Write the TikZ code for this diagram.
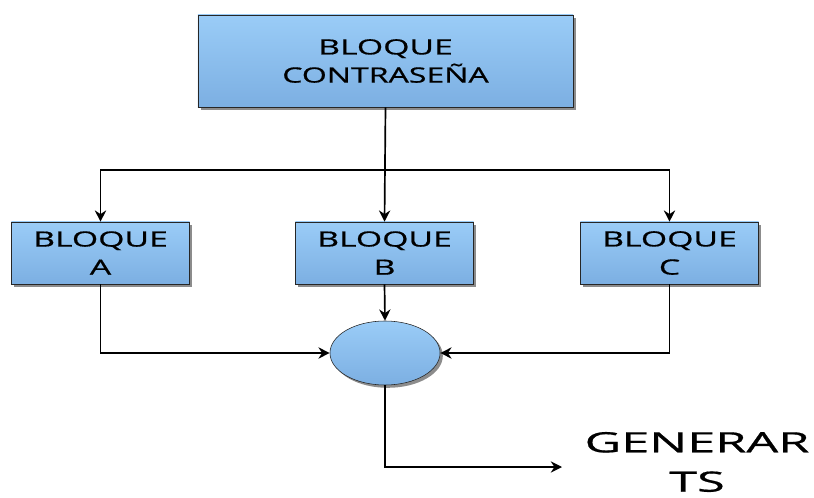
\documentclass[tikz,border=0pt]{standalone}
\usepackage{fontspec}
\setmainfont{Open Sans}
\newfontfamily\gruesa{Open Sans}[FakeBold=0.6]
\usetikzlibrary{arrows.meta,shadows,shapes.geometric}
\newcommand{\ancho}[2][1.6]{\scalebox{#1}[1]{#2}}
\definecolor{azularriba}{RGB}{154,204,247}
\definecolor{azulabajo}{RGB}{124,175,226}

\begin{document}
\begin{tikzpicture}[x=0.025cm, y=-0.025cm,
    bloque/.style={draw=black!85, thin, top color=azularriba, bottom color=azulabajo,
        drop shadow={shadow xshift=0.07cm, shadow yshift=-0.07cm, fill=black!45, opacity=1},
        align=center, inner sep=0pt, font=\gruesa\fontsize{15}{20}\selectfont},
    chico/.style={bloque, minimum width=4.45cm, minimum height=1.55cm},
    flecha/.style={-{Stealth[length=8pt,width=8pt]}, line width=1.2pt}]

    \useasboundingbox (0,0) rectangle (814,498);

    \node[bloque, minimum width=9.375cm, minimum height=2.3cm] (contra) at (385.5,61) {\ancho{BLOQUE}\\ \ancho[1.52]{CONTRASEÑA}};
    \node[chico] (bA) at (100.5,253) {\ancho{BLOQUE}\\ \ancho{A}};
    \node[chico] (bB) at (384.5,253) {\ancho{BLOQUE}\\ \ancho{B}};
    \node[chico] (bC) at (669.5,253) {\ancho{BLOQUE}\\ \ancho{C}};
    \node[bloque, ellipse, minimum width=2.75cm, minimum height=1.6cm] (suma) at (385,353) {};
    \node[align=center, font=\gruesa\fontsize{19.9}{28}\selectfont] (gen) at (697,462) {\ancho[1.8]{GENERAR}\\ \ancho[1.8]{TS}};

    % ramas desde el bloque de contrasena
    \coordinate (bif) at (384.5,170);
    \draw[flecha] (contra.south) -- (bB.north);
    \draw[flecha] (bif) -| (bA.north);
    \draw[flecha] (bif) -| (bC.north);

    % hacia el sumador
    \draw[flecha] (bA.south) |- (suma.west);
    \draw[flecha] (bB.south) -- (suma.north);
    \draw[flecha] (bC.south) |- (suma.east);

    \coordinate (fin) at (562,467);
    \draw[flecha] (suma.south) |- (fin);
\end{tikzpicture}
\end{document}
